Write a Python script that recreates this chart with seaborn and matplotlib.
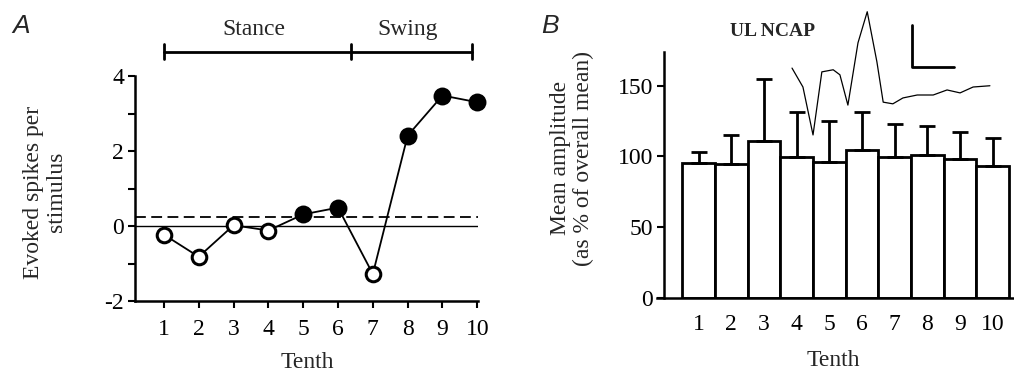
import matplotlib
matplotlib.use("Agg")
import matplotlib.pyplot as plt
import seaborn as sns
import numpy as np

# --- panel A: evoked spikes per stimulus, by tenth of the step cycle ---
tenth = [1, 2, 3, 4, 5, 6, 7, 8, 9, 10]
spikes = [-0.23, -0.82, 0.02, -0.12, 0.31, 0.49, -1.28, 2.41, 3.48, 3.30]
significant = [False, False, False, False, True, True, False, True, True, True]
dashed_level = 0.25

phase_names = ["Stance", "Swing"]
phase_edges = [1.0, 6.37, 9.85]

# --- panel B: UL NCAP mean amplitude ---
amp_mean = [95.5, 94.4, 111.1, 99.8, 95.8, 104.5, 99.8, 101.2, 97.9, 93.4]
amp_top = [103.3, 114.9, 155.0, 131.4, 125.3, 131.6, 122.9, 121.5, 117.3, 113.2]

# NCAP trace (scale bar = 1 unit each way)
trace_t = [0.0, 0.26, 0.5, 0.71, 0.98, 1.14, 1.33, 1.57, 1.79, 2.02, 2.17,
           2.40, 2.64, 2.98, 3.36, 3.69, 4.0, 4.31, 4.71]
trace_v = [1.71, 1.26, 0.12, 1.62, 1.67, 1.55, 0.83, 2.31, 3.05, 1.86, 0.90,
           0.86, 1.0, 1.07, 1.07, 1.19, 1.12, 1.26, 1.29]
scale_x0, scale_y0, scale_len = 2.86, 1.74, 1.0

sns.set_theme(style="ticks")
plt.rcParams["font.family"] = ["Liberation Serif", "DejaVu Serif"]
plt.rcParams["axes.unicode_minus"] = False
plt.rcParams["axes.linewidth"] = 1.8
plt.rcParams["xtick.major.width"] = 1.5
plt.rcParams["ytick.major.width"] = 1.5
plt.rcParams["xtick.color"] = "black"
plt.rcParams["ytick.color"] = "black"
plt.rcParams["axes.edgecolor"] = "black"

W, H = 1014, 372
fig = plt.figure(figsize=(W / 100, H / 100), dpi=100)


def px_axes(left, top, right, bottom):
    return fig.add_axes([left / W, 1 - bottom / H, (right - left) / W, (bottom - top) / H])


# ================= Panel A =================
axA = px_axes(135, 76, 478, 301)
axA.axhline(0, color="black", lw=1.0, zorder=1)
axA.axhline(dashed_level, color="black", lw=1.3, ls=(0, (6, 3)), zorder=1)
sns.lineplot(x=tenth, y=spikes, ax=axA, color="black", lw=1.3, zorder=2)
sig = np.array(significant)
xs, ys = np.array(tenth), np.array(spikes)
sns.scatterplot(x=xs[sig], y=ys[sig], ax=axA, s=130, color="black",
                edgecolor="black", linewidth=1.5, zorder=3, clip_on=False)
sns.scatterplot(x=xs[~sig], y=ys[~sig], ax=axA, s=110, color="white",
                edgecolor="black", linewidth=2.2, zorder=3, clip_on=False)

axA.set_xlim(0.17, 10.02)
axA.set_ylim(-2, 4)
axA.set_xticks(tenth)
axA.set_xticklabels([str(t) for t in tenth])
axA.set_yticks([-2, -1, 0, 1, 2, 3, 4])
axA.set_yticklabels(["-2", "", "0", "", "2", "", "4"])
axA.tick_params(axis="both", labelsize=17, length=5, pad=3)
axA.tick_params(axis="x", pad=8)
sns.despine(ax=axA)

# stance / swing bracket
bar_y = 4.65
axA.plot([phase_edges[0], phase_edges[-1]], [bar_y, bar_y], color="black",
         lw=2.0, clip_on=False)
for e in phase_edges:
    axA.plot([e, e], [bar_y - 0.2, bar_y + 0.2], color="black", lw=2.0, clip_on=False)
for name, a, b in zip(phase_names, phase_edges[:-1], phase_edges[1:]):
    axA.text((a + b) / 2 - 0.1, bar_y + 0.3, name, ha="center", va="bottom",
             fontsize=17)

fig.text(45 / W, 1 - 192 / H, "Evoked spikes per\nstimulus", rotation=90,
         ha="center", va="center", fontsize=17, multialignment="center",
         linespacing=1.1)
fig.text(307 / W, 1 - 362 / H, "Tenth", ha="center", va="center", fontsize=17)
fig.text(12 / W, 1 - 33 / H, "A", fontsize=19, style="italic",
         family=["Liberation Sans", "DejaVu Sans"], va="baseline")

# ================= Panel B =================
axB = px_axes(656.7, 51.7, 1013, 297.7)
sns.barplot(x=tenth, y=amp_mean, ax=axB, color="white", edgecolor="black",
            linewidth=2.0, width=1.0, saturation=1, errorbar=None, zorder=2)
pos = np.arange(len(amp_mean))
upper = np.array(amp_top) - np.array(amp_mean)
axB.errorbar(pos, amp_mean, yerr=[np.zeros_like(upper), upper], fmt="none",
             ecolor="black", elinewidth=2.0, capsize=6, capthick=2.0, zorder=3)
axB.set_xlim(-1.28, 9.62)
axB.set_ylim(0, 174)
axB.spines["left"].set_position(("data", -1.055))
axB.set_yticks([0, 50, 100, 150])
axB.tick_params(axis="y", labelsize=17, length=5, pad=3)
axB.tick_params(axis="x", labelsize=17, length=0, pad=12)
sns.despine(ax=axB)

fig.text(572 / W, 1 - 158 / H, "Mean amplitude\n(as % of overall mean)", rotation=90,
         ha="center", va="center", fontsize=17, multialignment="center",
         linespacing=1.1)
fig.text(833 / W, 1 - 360 / H, "Tenth", ha="center", va="center", fontsize=17)
fig.text(541 / W, 1 - 33 / H, "B", fontsize=19, style="italic",
         family=["Liberation Sans", "DejaVu Sans"], va="baseline")
fig.text(772 / W, 1 - 32 / H, "UL NCAP", ha="center", va="center",
         fontsize=14, fontweight="bold")

# NCAP inset trace with scale bar
axI = px_axes(785, 5, 1000, 140)
sns.lineplot(x=trace_t, y=trace_v, ax=axI, color="black", lw=0.9, sort=False)
axI.plot([scale_x0, scale_x0, scale_x0 + scale_len],
         [scale_y0 + scale_len, scale_y0, scale_y0], color="black", lw=2.0)
axI.set_xlim(-0.167, 4.95)
axI.set_ylim(0, 3.21)
axI.axis("off")

fig.savefig("out.png", dpi=100)
